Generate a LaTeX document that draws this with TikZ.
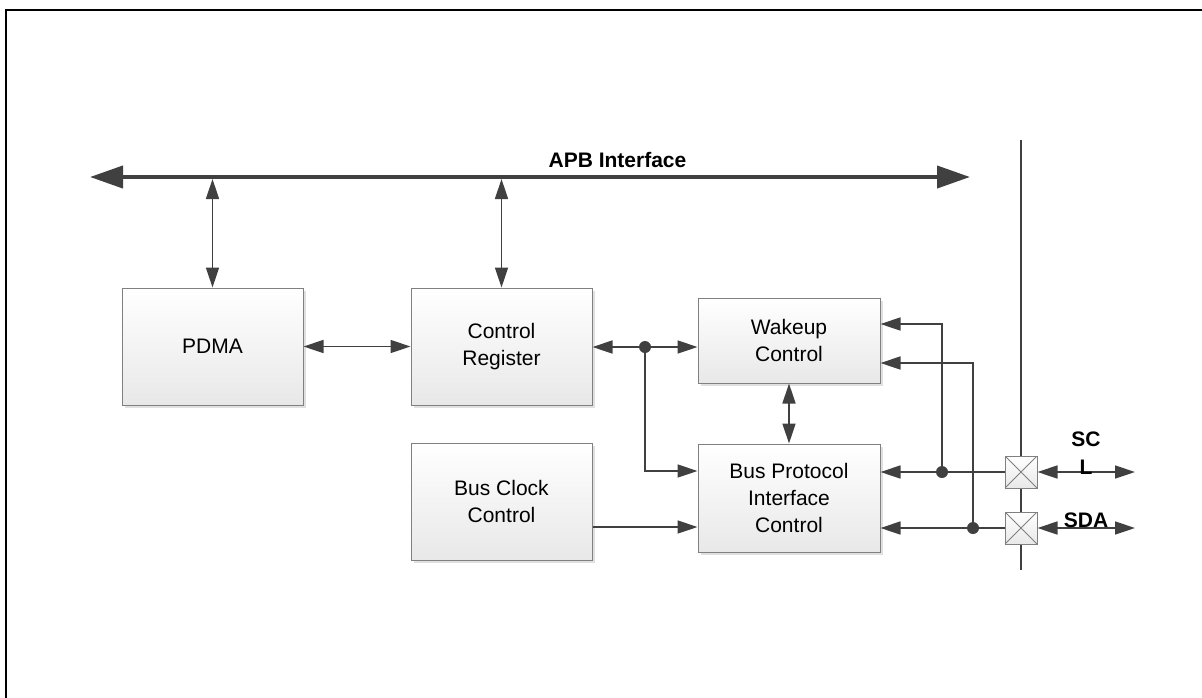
\documentclass[tikz,border=0pt]{standalone}
\usepackage{fontspec}
\setmainfont{Liberation Sans}
\usetikzlibrary{arrows.meta,shadows,calc}
\definecolor{lc}{HTML}{404040}
\definecolor{bc}{HTML}{808080}
\tikzset{tS/.tip={Triangle[length=20pt,width=13pt]},
         tB/.tip={Triangle[length=33pt,width=22pt]}}
\begin{document}
\begin{tikzpicture}[x=1pt,y=-1pt,
  blk/.style={draw=bc, line width=1pt, top color=white, bottom color=black!9,
    minimum width=#1, inner sep=0pt, align=center,
    font=\fontsize{21}{27}\selectfont,
    drop shadow={shadow xshift=3pt, shadow yshift=-3pt, fill=black!12, opacity=1}},
  blk/.default=181pt,
  conn/.style={draw=lc, line width=1.5pt},
  bus/.style={draw=lc, line width=4pt, {tB}-{tB}},
  dot/.style={circle, fill=lc, inner sep=0pt, minimum size=12pt},
  pad/.style={draw=bc, line width=1pt, top color=white, bottom color=black!9,
    minimum width=32pt, minimum height=32pt, inner sep=0pt,
    path picture={\draw[bc,line width=0.8pt] (path picture bounding box.north west) -- (path picture bounding box.south east)
      (path picture bounding box.north east) -- (path picture bounding box.south west);}},
  lbl/.style={font=\bfseries\fontsize{21}{28}\selectfont, inner sep=0pt, align=center}
]
\useasboundingbox (0,0) rectangle (1202,697);
% frame
\draw[line width=2pt] (6,698) -- (6,10) -- (1203,10);

% blocks
\node[blk, minimum height=117pt] (pdma) at (212.5,346.5) {PDMA};
\node[blk, minimum height=117pt] (cr) at (501.5,346.5) {Control\\Register};
\node[blk=182pt, minimum height=85pt] (wk) at (789,340.5) {Wakeup\\Control};
\node[blk, minimum height=117pt] (bcc) at (501.5,501.5) {Bus Clock\\Control};
\node[blk=182pt, minimum height=108pt] (bp) at (789,498) {Bus Protocol\\Interface\\Control};

% bus
\coordinate (busL) at (90,177);
\coordinate (busR) at (970,177);
\node[lbl, anchor=base] (apb) at (617.5,167) {APB Interface};

% coordinates
\coordinate (j1c) at (645,347);
\coordinate (y471) at (0,471);
\coordinate (y527) at (0,527);
\coordinate (y324) at (0,324);
\coordinate (y363) at (0,363);
\coordinate (vT) at (1021,140);
\coordinate (vB) at (1021,570);
\coordinate (e1) at (1135,472);
\coordinate (e2) at (1135,528);

% vertical boundary line
\draw[lc, line width=1.5pt] (vT) -- (vB);

% pads
\node[pad] (pad1) at (1021,472) {};
\node[pad] (pad2) at (1021,528) {};

% connectors
\draw[conn, {tS}-{tS}, shorten <=2pt] (pdma.north |- busL) -- (pdma.north);
\draw[conn, {tS}-{tS}, shorten <=2pt] (cr.north |- busL) -- (cr.north);
\draw[conn, {tS}-{tS}] (pdma.east) -- (cr.west);
\draw[conn, -{tS}] (j1c) -- (cr.east |- j1c);
\draw[conn, -{tS}] (j1c) -- (wk.west |- j1c);
\draw[conn, -{tS}] (j1c) |- (bp.west |- y471);
\draw[conn, -{tS}] (bcc.east |- y527) -- (bp.west |- y527);
\draw[conn, {tS}-{tS}] (wk.south) -- (bp.north);

\node[dot] (d1) at (942,472) {};
\node[dot] (d2) at (973,528) {};
\node[dot] (j1) at (j1c) {};

\draw[conn, -{tS}] (pad1.west) -- (bp.east |- pad1);
\draw[conn, -{tS}] (pad2.west) -- (bp.east |- pad2);
\draw[conn, -{tS}] (d1.center) |- (wk.east |- y324);
\draw[conn, -{tS}] (d2.center) |- (wk.east |- y363);
\draw[conn, {tS}-{tS}] (pad1.east) -- (e1);
\draw[conn, {tS}-{tS}] (pad2.east) -- (e2);

\node[lbl, anchor=south] (scl) at (1086,475) {SC\\L};
\node[lbl, anchor=base] (sda) at (1086,527) {SDA};

\draw[bus] (busL) -- (busR);
\end{tikzpicture}
\end{document}
